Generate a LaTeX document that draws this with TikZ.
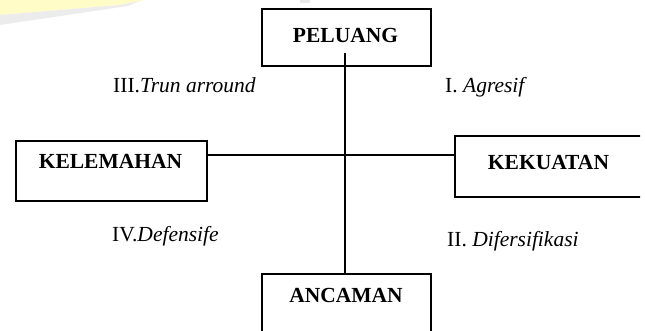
\documentclass[tikz,border=0pt]{standalone}
\usepackage{fontspec}
\setmainfont{Liberation Serif}
\begin{document}
\begin{tikzpicture}[x=1pt,y=-1pt,
  box/.style={draw, line width=1.2pt, rectangle, inner sep=0pt},
  title/.style={font=\fontsize{21.5}{24}\selectfont\bfseries, anchor=base, inner sep=0pt},
  quad/.style={font=\fontsize{21.5}{24}\selectfont, anchor=base west, inner sep=0pt},
  axis/.style={line width=1.2pt}]
\useasboundingbox (0,0) rectangle (645,331);
% faint page-corner tint
\fill[yellow!22] (0,0) -- (145,0) -- (120,5) -- (0,15) -- cycle;
\fill[gray!15] (0,15) -- (120,5) -- (140,1) -- (128,6) -- (0,25) -- cycle;
\fill[gray!18] (300,0) rectangle (310,3);
% quadrant boxes
\begin{scope}
\clip (0,0) rectangle (640,331);
\node[box, minimum width=169pt, minimum height=57pt] (peluang) at (346.5,37.5) {};
\node[box, minimum width=191pt, minimum height=60pt] (kelemahan) at (111.5,171) {};
\node[box, minimum width=215pt, minimum height=61pt] (kekuatan) at (562.5,166.5) {};
\node[box, minimum width=169pt, minimum height=80pt] (ancaman) at (346.5,314) {};
\end{scope}
% box titles
\node[title] (tpeluang) at (345.5,43) {PELUANG};
\node[title] (tkelemahan) at (110.5,169) {KELEMAHAN};
\node[title] (tkekuatan) at (548.5,170) {KEKUATAN};
\node[title] (tancaman) at (346,302) {ANCAMAN};
% axes
\coordinate (vtop) at (345,53);
\coordinate (hmid) at (0,155);
\draw[axis] (vtop) -- (vtop |- ancaman.north);
\draw[axis] (kelemahan.east |- hmid) -- (kekuatan.west |- hmid);
% quadrant labels
\node[quad] (q3) at (113,93) {III.\textit{Trun arround}};
\node[quad] (q1) at (445,93) {I. \textit{Agresif}};
\node[quad] (q4) at (112,241) {IV.\textit{Defensife}};
\node[quad] (q2) at (447,247) {II. \textit{Difersifikasi}};
\end{tikzpicture}
\end{document}
